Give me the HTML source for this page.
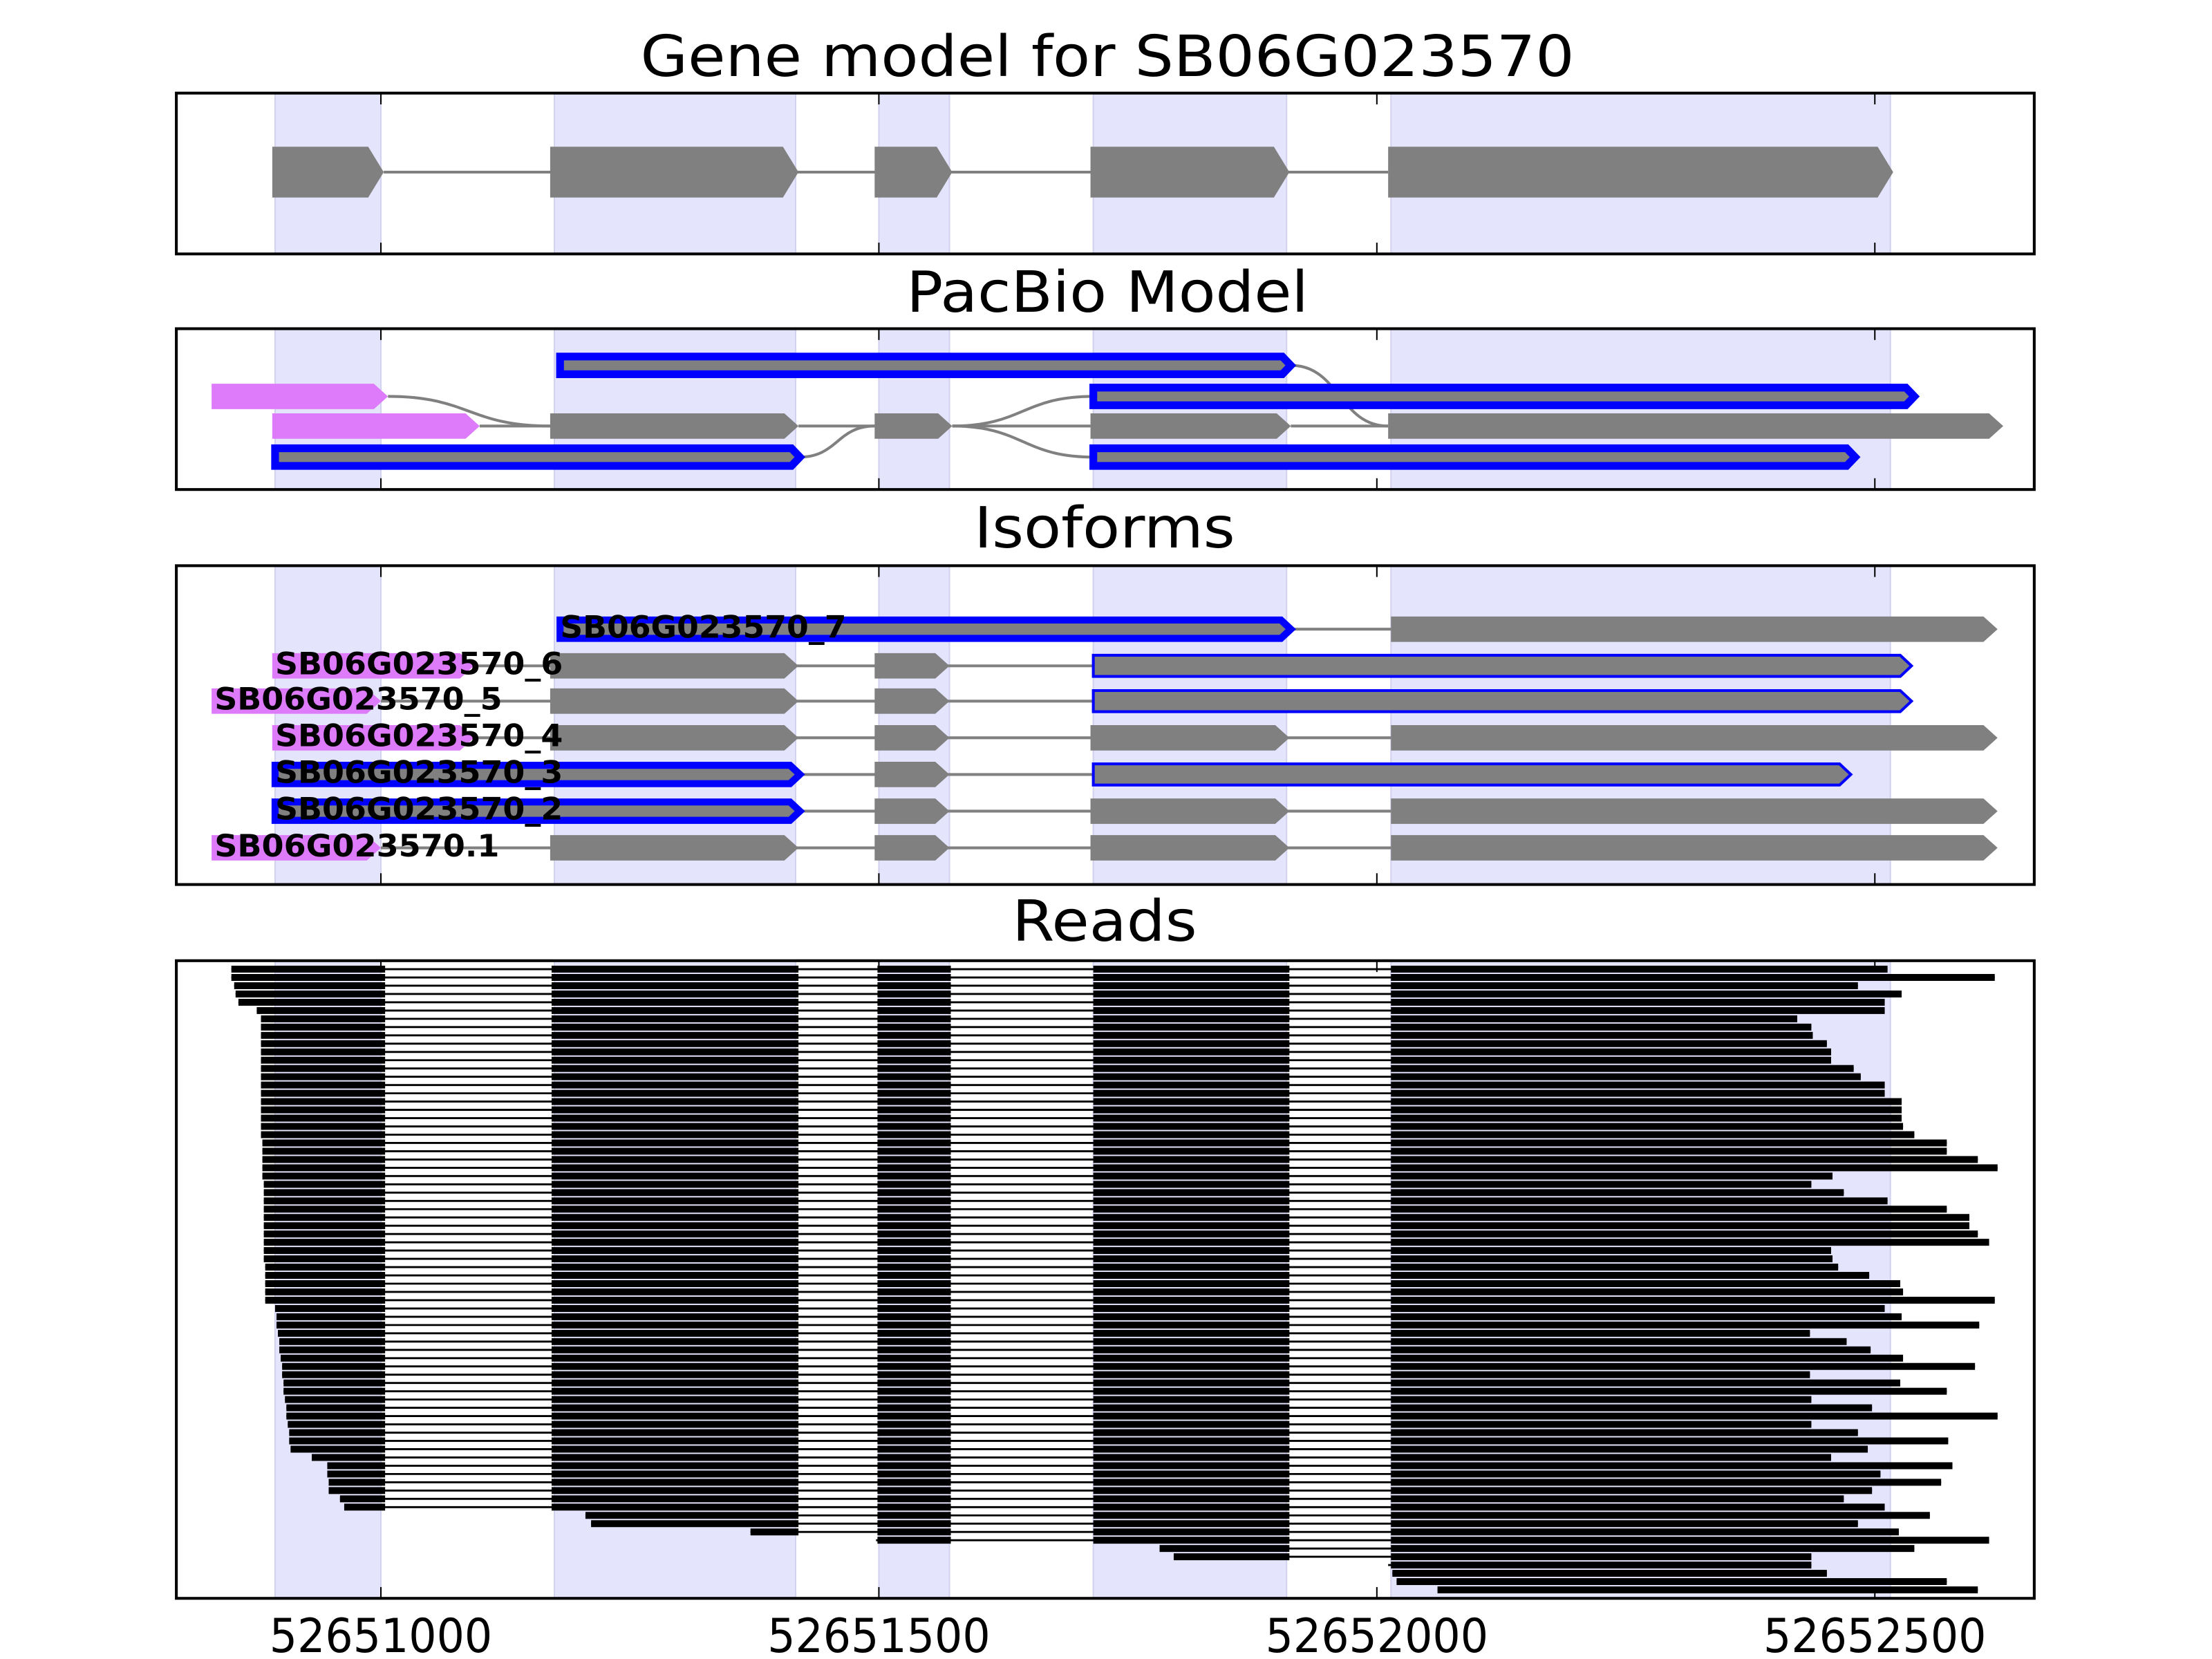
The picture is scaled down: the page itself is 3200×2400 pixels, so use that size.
<!DOCTYPE html>
<html><head><meta charset="utf-8"><style>html,body{margin:0;padding:0;background:#fff}svg{display:block}</style></head>
<body>
<svg id="s" xmlns="http://www.w3.org/2000/svg" width="3200" height="2400" viewBox="0 0 1568 1176" font-family="DejaVu Sans, Liberation Sans, sans-serif">
<rect width="1568" height="1176" fill="#fff"/>
<g id="shade"></g>
<g id="body"></g>
<g fill="#000">
<text x="785" y="54" font-size="40" text-anchor="middle" textLength="662" lengthAdjust="spacingAndGlyphs">Gene model for SB06G023570</text>
<text x="785" y="221" font-size="40" text-anchor="middle" textLength="285" lengthAdjust="spacingAndGlyphs">PacBio Model</text>
<text x="783" y="388" font-size="40" text-anchor="middle" textLength="185" lengthAdjust="spacingAndGlyphs">Isoforms</text>
<text x="783" y="667" font-size="40" text-anchor="middle" textLength="131" lengthAdjust="spacingAndGlyphs">Reads</text>
<text x="270" y="1171" font-size="33" text-anchor="middle" textLength="158" lengthAdjust="spacingAndGlyphs">52651000</text>
<text x="623" y="1171" font-size="33" text-anchor="middle" textLength="158" lengthAdjust="spacingAndGlyphs">52651500</text>
<text x="976" y="1171" font-size="33" text-anchor="middle" textLength="158" lengthAdjust="spacingAndGlyphs">52652000</text>
<text x="1329" y="1171" font-size="33" text-anchor="middle" textLength="158" lengthAdjust="spacingAndGlyphs">52652500</text>
</g>
<g id="labels" font-weight="bold" font-size="22" fill="#000">
<text x="397" y="452" textLength="203" lengthAdjust="spacingAndGlyphs">SB06G023570_7</text>
<text x="195" y="478" textLength="204" lengthAdjust="spacingAndGlyphs">SB06G023570_6</text>
<text x="152" y="503" textLength="204" lengthAdjust="spacingAndGlyphs">SB06G023570_5</text>
<text x="195" y="529" textLength="204" lengthAdjust="spacingAndGlyphs">SB06G023570_4</text>
<text x="195" y="555" textLength="204" lengthAdjust="spacingAndGlyphs">SB06G023570_3</text>
<text x="195" y="581" textLength="204" lengthAdjust="spacingAndGlyphs">SB06G023570_2</text>
<text x="152" y="607" textLength="202" lengthAdjust="spacingAndGlyphs">SB06G023570.1</text>
</g>
<g id="frames"></g>
</svg>
<script>
(function(){
var NS="http://www.w3.org/2000/svg";
function el(p,t,a){var e=document.createElementNS(NS,t);for(var k in a)e.setAttribute(k,a[k]);document.getElementById(p).appendChild(e);return e;}
var panels=[[66,180],[233,347],[401,627],[681,1133]];
var shades=[[195,270],[393,564],[623,673],[775,912],[986,1340]];
panels.forEach(function(p){
 shades.forEach(function(s){el("shade","rect",{x:s[0],y:p[0],width:s[1]-s[0],height:p[1]-p[0],fill:"#e4e4fd",stroke:"#d2d2ee","stroke-width":1});});
 el("frames","rect",{x:125,y:p[0],width:1317,height:p[1]-p[0],fill:"none",stroke:"#000","stroke-width":2});
 [270,623,976,1329].forEach(function(x){
  el("frames","line",{x1:x,y1:p[0],x2:x,y2:p[0]+8,stroke:"#000","stroke-width":1});
  el("frames","line",{x1:x,y1:p[1],x2:x,y2:p[1]-8,stroke:"#000","stroke-width":1});
 });
});
function arrow(x1,x2,y,h,t,fill,stroke,sw){
 var pts=[[x1,y-h/2],[x2-t,y-h/2],[x2,y],[x2-t,y+h/2],[x1,y+h/2]].map(function(q){return q.join(",")}).join(" ");
 var a={points:pts,fill:fill};
 if(stroke){a.stroke=stroke;a["stroke-width"]=sw;a["stroke-linejoin"]="miter";}
 el("body","polygon",a);
}
function line(x1,x2,y){el("body","line",{x1:x1,y1:y,x2:x2,y2:y,stroke:"#808080","stroke-width":2});}
function curve(x1,y1,x2,y2){var m=(x1+x2)/2;el("body","path",{d:"M"+x1+","+y1+" C"+m+","+y1+" "+m+","+y2+" "+x2+","+y2,fill:"none",stroke:"#808080","stroke-width":2});}
var G="#808080",M="#de7bfa",B="#0000ff";
line(272,984,122);
[[193,272],[390,566],[620,675],[773,914],[984,1342]].forEach(function(e){arrow(e[0],e[1],122,36,11,G);});
var r1=259,r2=281,r3=302,r4=324;
line(340,390,r3);line(566,620,r3);line(675,773,r3);line(915,984,r3);
curve(275,r2,390,r3);curve(567,r4,620,r3);curve(675,r3,775,r2);curve(675,r3,775,r4);curve(915,r1,984,r3);
arrow(397,915,r1,12.5,6,G,B,5.5);
arrow(150,275,r2,18,10,M);
arrow(775,1357,r2,12.5,6,G,B,5.5);
arrow(193,340,r3,18,10,M);
[[390,566],[620,675],[773,915],[984,1420]].forEach(function(e){arrow(e[0],e[1],r3,18,10,G);});
arrow(195,567,r4,12.5,6,G,B,5.5);
arrow(775,1315,r4,12.5,6,G,B,5.5);
var iso=[
 [446,[["b",397,915],["g",986,1416]]],
 [472,[["m",193,336],["g",390,566],["g",620,673],["t",775,1355]]],
 [497,[["m",150,270],["g",390,566],["g",620,673],["t",775,1355]]],
 [523,[["m",193,336],["g",390,566],["g",620,673],["g",773,914],["g",986,1416]]],
 [549,[["b",195,567],["g",620,673],["t",775,1312]]],
 [575,[["b",195,567],["g",620,673],["g",773,914],["g",986,1416]]],
 [601,[["m",150,270],["g",390,566],["g",620,673],["g",773,914],["g",986,1416]]]
];
iso.forEach(function(r){
 var y=r[0],ex=r[1];
 line(ex[0][2],ex[ex.length-1][1],y);
 ex.forEach(function(e){
  if(e[0]=="g")arrow(e[1],e[2],y,18,10,G);
  else if(e[0]=="m")arrow(e[1],e[2],y,18,10,M);
  else if(e[0]=="b")arrow(e[1],e[2],y,13,7,G,B,5);
  else arrow(e[1],e[2],y,15,8,G,B,2);
 });
});
document.getElementById("s").appendChild(document.getElementById("labels"));
document.getElementById("s").appendChild(document.getElementById("frames"));
var ends=[1338,1414,1317,1348,1336,1336,1274,1284,1285,1295,1298,1298,1314,1319,1336,1336,1348,1348,1348,1349,1357,1380,1380,1402,1416,1299,1284,1307,1338,1380,1396,1396,1402,1410,1298,1299,1303,1325,1347,1349,1414,1336,1348,1403,1283,1309,1326,1349,1400,1283,1347,1380,1284,1327,1416,1284,1317,1381,1324,1298,1384,1333,1376,1327,1307,1336,1368,1317,1346,1410,1357,1284,1284,1295,1380,1402];
var N=ends.length;
var starts=[];
for(var i=0;i<N;i++){
 var s;
 if(i<5)s=[164,164,166,167,169][i];
 else if(i==5)s=182;
 else if(i<21)s=185;
 else if(i<41)s=186+Math.round((i-21)/10);
 else if(i<59)s=195+Math.round((i-41)*11/17);
 else if(i==59)s=221;
 else if(i<64)s=232+Math.floor((i-60)/2);
 else if(i==64)s=241;
 else if(i==65)s=244;
 else if(i==66)s=415;
 else if(i==67)s=419;
 else if(i==68)s=532;
 else if(i==69)s=621;
 else if(i==70)s=822;
 else if(i==71)s=832;
 else s=[984,987,990,1019][Math.min(i-72,3)];
 starts.push(s);
}
var y0=687,y1=1127,dy=(y1-y0)/(N-1),h=4.9;
var exons=[[0,273],[391,566],[622,674],[775,914],[986,0]];
for(var i=0;i<N;i++){
 var y=y0+i*dy,s=starts[i],e=ends[i];
 el("body","line",{x1:s,y1:y,x2:e,y2:y,stroke:"#000","stroke-width":1.4});
 exons.forEach(function(x,k){
  var a=k==0?s:x[0],b=k==4?e:x[1];
  a=Math.max(a,s);b=Math.min(b,e);
  if(b>a)el("body","rect",{x:a,y:y-h/2,width:b-a,height:h,fill:"#000"});
 });
}
})();
</script>
</body></html>
